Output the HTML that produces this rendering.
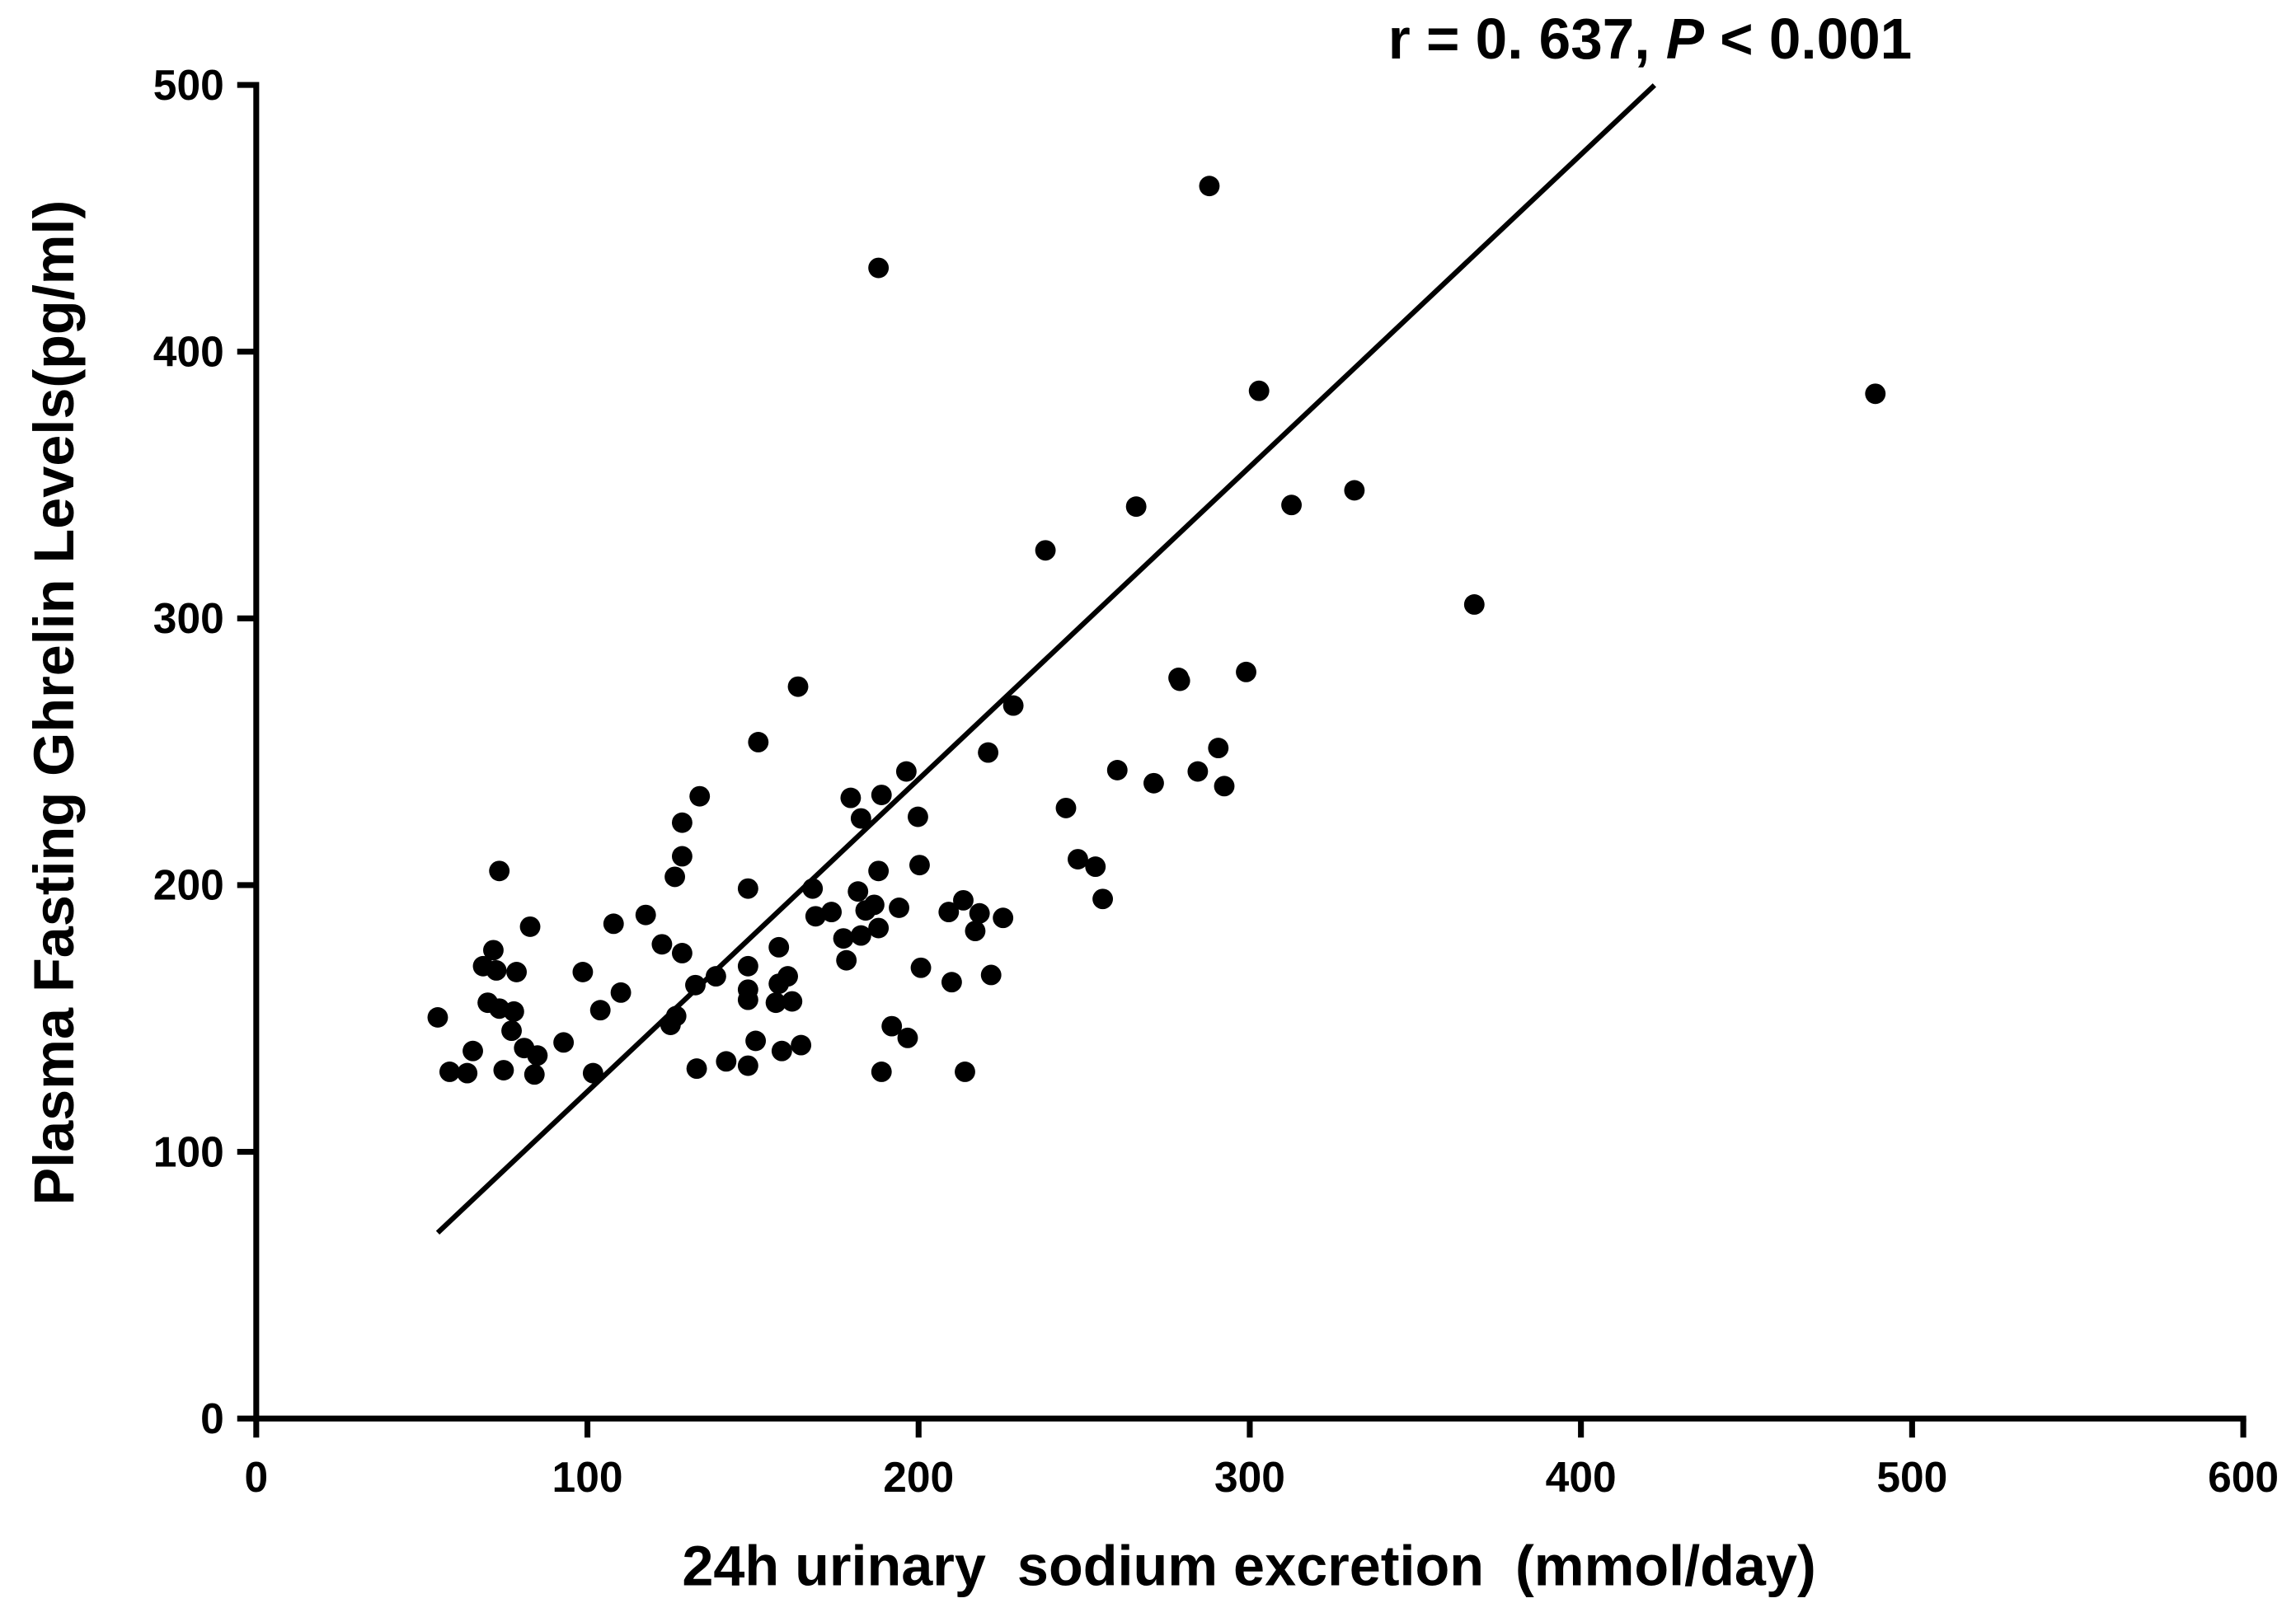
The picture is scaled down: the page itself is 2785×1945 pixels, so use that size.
<!DOCTYPE html>
<html><head><meta charset="utf-8"><style>
html,body{margin:0;padding:0;background:#fff}
svg{display:block}
text{font-family:"Liberation Sans",Arial,sans-serif;font-weight:bold;fill:#000}
</style></head><body>
<svg id="chart" width="2785" height="1945" viewBox="0 0 1568 1095" preserveAspectRatio="none" xmlns="http://www.w3.org/2000/svg">
<g id="axes"></g>
<g id="marks"></g>
<text x="948" y="40" font-size="39">r = 0. 637, <tspan font-style="italic">P</tspan> &lt; 0.001</text>
<text x="853" y="1083" font-size="38.5" text-anchor="middle" xml:space="preserve">24h urinary  sodium excretion  (mmol/day)</text>
<text transform="translate(50,480) rotate(-90)" font-size="38.5" text-anchor="middle">Plasma Fasting Ghrelin Levels(pg/ml)</text>
</svg>
<script>
const xTicks=[0,100,200,300,400,500,600];
const yTicks=[0,100,200,300,400,500];
const sodium=[54.8,58.4,63.7,65.4,68.5,69.9,71.6,72.5,73.4,73.4,74.7,77.1,77.8,78.6,80.9,82.7,84,84.9,92.8,98.6,101.7,103.9,107.9,110.1,117.6,122.5,125.1,126.4,126.8,128.6,128.6,128.6,132.6,133,133.9,138.8,141.9,148.5,148.5,148.5,148.5,148.5,150.8,151.6,156.9,157.8,157.8,158.7,160.5,161.8,163.6,164.5,168,168.9,173.7,177.3,178.2,179.5,181.7,182.6,182.6,184,186.6,187.9,187.9,187.9,188.8,188.8,191.9,194.1,196.3,196.7,199.8,200.3,200.7,209.1,210,213.5,214,217.1,218.4,221,221.9,225.5,228.6,238.3,244.5,248.1,253.4,255.6,260,265.7,271,278.5,278.9,284.3,287.8,290.5,292.3,298.9,302.8,312.6,331.6,367.8,488.9];
const ghrelin=[150.4,130,129.5,137.8,169.6,155.9,175.6,168,205.3,153.7,130.6,145.4,152.6,167.4,138.9,184.4,129,136.1,141,167.4,129.5,153.1,185.5,159.7,188.8,177.8,147.6,203.1,150.9,223.4,210.8,174.5,162.5,131.2,233.3,165.8,133.9,198.7,169.6,160.8,157,132.3,141.6,253.6,155.9,176.7,163,137.8,165.8,156.4,274.4,140,198.7,188.3,189.9,180,171.8,232.7,197.6,225,181.1,190.5,192.6,431.4,205.3,183.9,130,233.8,147.1,191.5,242.6,142.7,225.6,207.5,169,189.9,163.6,194.3,130,182.8,189.4,249.7,166.3,187.7,267.3,325.5,228.9,209.7,206.9,194.8,243.1,341.9,238.2,277.7,276.6,242.6,462.1,251.4,237.1,279.9,385.3,342.5,348,305.2,384.2];
const fitX=[54.8,422.2];
const fitSlope=[1.171];
const fitIntercept=[5.5];
const NS="http://www.w3.org/2000/svg";
const X0=175,X1=1532,Y0=969,Y1=58;
const sx=v=>X0+(v-0)/(600-0)*(X1-X0);
const sy=v=>Y0-(v-0)/(500-0)*(Y0-Y1);
function mk(tag,attrs,parent){const e=document.createElementNS(NS,tag);for(const k in attrs)e.setAttribute(k,attrs[k]);parent.appendChild(e);return e;}
const axes=document.getElementById('axes'),marks=document.getElementById('marks');
let a=mk('line',{x1:X0,y1:Y1-2,x2:X0,y2:Y0+2,stroke:'#000','stroke-width':4},axes);


a=mk('line',{x1:X0-2,y1:Y0,x2:X1+2,y2:Y0,stroke:'#000','stroke-width':4},axes);


xTicks.forEach(t=>{
 const l=mk('line',{x1:sx(t),y1:Y0,x2:sx(t),y2:Y0+13,stroke:'#000','stroke-width':4},axes);
 
 
 const tx=mk('text',{x:sx(t),y:1019,'font-size':29,'text-anchor':'middle'},axes);tx.textContent=t;
 
 
});
yTicks.forEach(t=>{
 const l=mk('line',{x1:X0-13,y1:sy(t),x2:X0,y2:sy(t),stroke:'#000','stroke-width':4},axes);
 
 
 const tx=mk('text',{x:153,y:sy(t)+10,'font-size':29,'text-anchor':'end'},axes);tx.textContent=t;
 
 
});
const f=v=>fitSlope[0]*v+fitIntercept[0];
const ln=mk('line',{x1:sx(fitX[0]),y1:sy(f(fitX[0])),x2:sx(fitX[1]),y2:sy(f(fitX[1])),stroke:'#000','stroke-width':3.5},marks);


sodium.forEach((v,i)=>{
 const c=mk('circle',{cx:sx(v),cy:sy(ghrelin[i]),r:7,fill:'#000'},marks);
 
 
});
</script>
</body></html>
